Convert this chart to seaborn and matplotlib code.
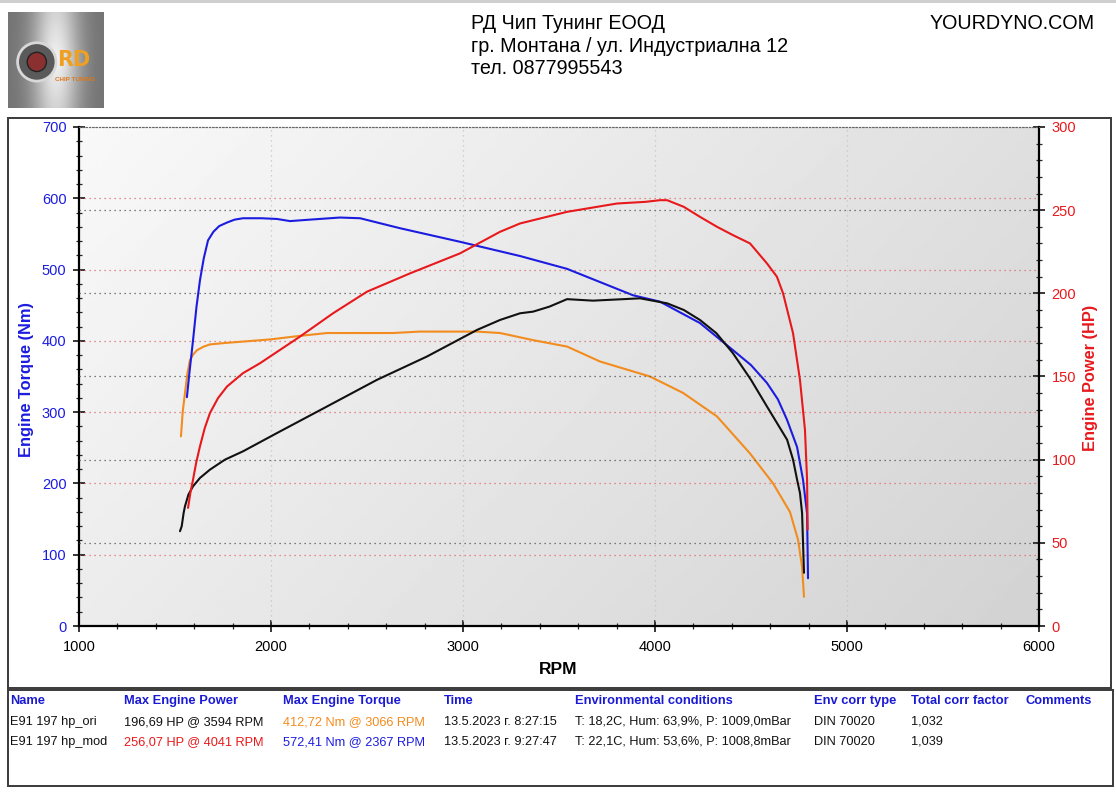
import matplotlib
matplotlib.use('Agg')
import matplotlib.pyplot as plt
from matplotlib.patches import Rectangle, Circle
from matplotlib.ticker import MultipleLocator
import seaborn as sns
import numpy as np
import pandas as pd

# --- data ---
# E91 197 hp_mod torque (Nm)
mod_torque_rpm = [1562, 1575, 1594, 1612, 1630, 1650, 1672, 1700, 1730, 1771, 1810, 1854, 1950,
                  2031, 2099, 2200, 2359, 2464, 2672, 2984, 3297, 3542, 3885, 4026, 4234,
                  4406, 4500, 4583, 4640, 4688, 4740, 4771, 4792, 4797]
mod_torque_nm = [321, 355, 401, 448, 485, 516, 541, 553, 561, 566, 570, 572, 572,
                 571, 568, 570, 573, 572, 558, 539, 519, 501, 464, 455, 425,
                 387, 366, 341, 318, 289, 251, 205, 158, 67]

# E91 197 hp_ori torque (Nm)
ori_torque_rpm = [1531, 1540, 1552, 1565, 1578, 1595, 1615, 1650, 1682, 1760, 1854, 1995, 2151,
                  2292, 2635, 2776, 3073, 3193, 3365, 3542, 3714, 3974, 4146, 4323, 4495,
                  4615, 4703, 4745, 4766, 4776]
ori_torque_nm = [266, 300, 327, 355, 373, 381, 387, 392, 395, 397, 399, 402, 407,
                 411, 411, 413, 413, 411, 401, 392, 371, 350, 327, 294, 242,
                 200, 160, 121, 83, 41]

# E91 197 hp_mod power (HP)
mod_power_rpm = [1568, 1580, 1594, 1610, 1630, 1655, 1682, 1724, 1771, 1854, 1943, 2151, 2323,
                 2500, 2724, 2984, 3193, 3297, 3542, 3802, 3950, 4026, 4063, 4150, 4234,
                 4323, 4406, 4495, 4583, 4635, 4667, 4719, 4755, 4781, 4792, 4795]
mod_power_hp = [71, 80, 88, 98, 108, 119, 128, 137, 144, 152, 158, 174, 188,
                201, 212, 224, 237, 242, 249, 254, 255, 256, 256, 252, 246,
                240, 235, 230, 218, 210, 200, 176, 148, 118, 88, 58]

# E91 197 hp_ori power (HP)
ori_power_rpm = [1526, 1535, 1545, 1552, 1570, 1594, 1630, 1682, 1760, 1854, 2031, 2292, 2552,
                 2812, 3073, 3193, 3297, 3365, 3450, 3542, 3677, 3922, 4063, 4150, 4234,
                 4320, 4406, 4500, 4583, 4688, 4719, 4740, 4755, 4766, 4776]
ori_power_hp = [57, 60, 68, 72, 79, 84, 89, 94, 100, 105, 116, 132, 148,
                162, 178, 184, 188, 189, 192, 196.5, 195.6, 197, 194, 190, 184,
                176, 164, 148, 132, 112, 100, 88, 80, 68, 32]

header_lines = ['РД Чип Тунинг ЕООД', 'гр. Монтана / ул. Индустриална 12', 'тел. 0877995543']
site_name = 'YOURDYNO.COM'

table_headers = ['Name', 'Max Engine Power', 'Max Engine Torque', 'Time',
                 'Environmental conditions', 'Env corr type', 'Total corr factor', 'Comments']
row_ori = ['E91 197 hp_ori', '196,69 HP @ 3594 RPM', '412,72 Nm @ 3066 RPM', '13.5.2023 г. 8:27:15',
           'T: 18,2C, Hum: 63,9%, P: 1009,0mBar', 'DIN 70020', '1,032', '']
row_mod = ['E91 197 hp_mod', '256,07 HP @ 4041 RPM', '572,41 Nm @ 2367 RPM', '13.5.2023 г. 9:27:47',
           'T: 22,1C, Hum: 53,6%, P: 1008,8mBar', 'DIN 70020', '1,039', '']

BLUE = '#1c1ce0'
RED = '#e8191c'
ORANGE = '#f28c1e'
BLACK = '#111111'
HEAD_BLUE = '#1a1ad4'

sns.set_theme(style='white')
plt.rcParams['font.family'] = ['Liberation Sans', 'DejaVu Sans']

W, H = 1116, 792
fig = plt.figure(figsize=(W / 100, H / 100), dpi=100)
fig.patch.set_facecolor('white')


def fx(px):
    return px / W


def fy(py):
    return 1 - py / H


# top grey strip and frames
fig.add_artist(Rectangle((0, fy(3)), 1, 3 / H, transform=fig.transFigure,
                         facecolor='#cfcfcf', edgecolor='none'))
fig.add_artist(Rectangle((fx(8), fy(688)), fx(1103), 570 / H, transform=fig.transFigure,
                         facecolor='none', edgecolor='#3a3a3a', lw=1.4))
fig.add_artist(Rectangle((fx(8), fy(786)), fx(1105), 96 / H, transform=fig.transFigure,
                         facecolor='none', edgecolor='#3a3a3a', lw=1.4))

# logo block
lax = fig.add_axes([fx(8), fy(108), fx(96), 96 / H])
yy, xx = np.mgrid[-1:1:96j, -1:1:96j]
shade = 0.45 + 0.5 * np.exp(-(xx * 0.9) ** 2 * 5) * (1 - 0.25 * np.abs(yy))
lax.imshow(shade, cmap='gray', vmin=0, vmax=1, extent=[0, 1, 0, 1], aspect='auto')
lax.add_patch(Circle((0.3, 0.48), 0.2, facecolor='#5a5a5a', edgecolor='#d8d8d8', lw=2))
lax.add_patch(Circle((0.3, 0.48), 0.1, facecolor='#8a3030', edgecolor='#222222', lw=1))
lax.text(0.68, 0.5, 'RD', color='#f0a020', fontsize=15, fontweight='bold',
         ha='center', va='center', family=['DejaVu Sans'])
lax.text(0.7, 0.3, 'CHIP TUNING', color='#e07818', fontsize=4.5, fontweight='bold',
         ha='center', va='center')
lax.set_xlim(0, 1)
lax.set_ylim(0, 1)
lax.axis('off')

# header text
for i, line in enumerate(header_lines):
    fig.text(fx(471), fy(29 + i * 22.5), line, fontsize=14.2, color='black', ha='left', va='baseline')
fig.text(fx(1095), fy(29), site_name, fontsize=14.2, color='black', ha='right', va='baseline')

# main chart
ax = fig.add_axes([fx(79), fy(626), fx(960), 499 / H])
ax2 = ax.twinx()

ax.set_xlim(1000, 6000)
ax.set_ylim(0, 700)
ax2.set_ylim(0, 300)

# background gradient
gx, gy = np.meshgrid(np.linspace(0, 1, 200), np.linspace(1, 0, 200))
grad = 0.975 - 0.10 * gx - 0.05 * (1 - gy)
ax.imshow(grad, cmap='gray', vmin=0, vmax=1, extent=[1000, 6000, 0, 700],
          aspect='auto', zorder=0, interpolation='bilinear')

df_mod_t = pd.DataFrame({'rpm': mod_torque_rpm, 'val': mod_torque_nm})
df_ori_t = pd.DataFrame({'rpm': ori_torque_rpm, 'val': ori_torque_nm})
df_mod_p = pd.DataFrame({'rpm': mod_power_rpm, 'val': mod_power_hp})
df_ori_p = pd.DataFrame({'rpm': ori_power_rpm, 'val': ori_power_hp})

sns.lineplot(data=df_ori_t, x='rpm', y='val', ax=ax, color=ORANGE, lw=1.5,
             sort=False, estimator=None, zorder=3)
sns.lineplot(data=df_mod_t, x='rpm', y='val', ax=ax, color=BLUE, lw=1.5,
             sort=False, estimator=None, zorder=3)
sns.lineplot(data=df_ori_p, x='rpm', y='val', ax=ax2, color=BLACK, lw=1.5,
             sort=False, estimator=None, zorder=3)
sns.lineplot(data=df_mod_p, x='rpm', y='val', ax=ax2, color=RED, lw=1.5,
             sort=False, estimator=None, zorder=3)

ax.set_xlabel('')
ax.set_ylabel('')
ax2.set_ylabel('')

# grids
for t in range(2000, 6000, 1000):
    ax.axvline(t, color='#c4c4c4', lw=0.9, ls=(0, (1, 3)), zorder=1)
for t in range(100, 700, 100):
    ax.axhline(t, color='#e06a6a', lw=0.9, ls=(0, (1, 3)), zorder=1)
for t in range(50, 300, 50):
    ax2.axhline(t, color='#555555', lw=0.9, ls=(0, (1, 3)), zorder=1)

# ticks
ax.xaxis.set_major_locator(MultipleLocator(1000))
ax.xaxis.set_minor_locator(MultipleLocator(200))
ax.yaxis.set_major_locator(MultipleLocator(100))
ax.yaxis.set_minor_locator(MultipleLocator(20))
ax2.yaxis.set_major_locator(MultipleLocator(50))
ax2.yaxis.set_minor_locator(MultipleLocator(10))

ax.tick_params(axis='x', which='major', direction='inout', length=8, width=1.1,
               colors='black', labelsize=10.5, pad=6, bottom=True)
ax.tick_params(axis='x', which='minor', direction='inout', length=5, width=0.9, bottom=True)
ax.tick_params(axis='y', which='major', direction='inout', length=8, width=1.1,
               colors='black', labelcolor=BLUE, labelsize=10.5, pad=5, left=True)
ax.tick_params(axis='y', which='minor', direction='inout', length=5, width=0.9, left=True)
ax2.tick_params(axis='y', which='major', direction='inout', length=8, width=1.1,
                colors='black', labelcolor=RED, labelsize=10.5, pad=5, right=True)
ax2.tick_params(axis='y', which='minor', direction='inout', length=5, width=0.9, right=True)

for a in (ax, ax2):
    for side in ('left', 'bottom', 'right'):
        a.spines[side].set_color('black')
        a.spines[side].set_linewidth(1.6)
    a.spines['top'].set_color('#666666')
    a.spines['top'].set_linewidth(0.8)
    a.spines['top'].set_linestyle((0, (1, 2)))
ax2.spines['left'].set_visible(False)
ax2.spines['bottom'].set_visible(False)
ax.spines['right'].set_visible(False)

# axis titles
fig.text(fx(26), fy(379), 'Engine Torque (Nm)', rotation=90, color=BLUE, fontsize=11.8,
         fontweight='bold', ha='center', va='center')
fig.text(fx(1091), fy(378), 'Engine Power (HP)', rotation=90, color=RED, fontsize=11.8,
         fontweight='bold', ha='center', va='center')
fig.text(fx(558), fy(669), 'RPM', color='black', fontsize=12.5, fontweight='bold',
         ha='center', va='center')

# summary table
col_x = [10, 124, 283, 444, 575, 814, 911, 1026]
for x, h in zip(col_x, table_headers):
    fig.text(fx(x), fy(704), h, color=HEAD_BLUE, fontsize=9.3, fontweight='bold',
             ha='left', va='baseline')

ori_colors = [BLACK, BLACK, ORANGE, BLACK, BLACK, BLACK, BLACK, BLACK]
mod_colors = [BLACK, RED, BLUE, BLACK, BLACK, BLACK, BLACK, BLACK]
for x, txt, c in zip(col_x, row_ori, ori_colors):
    fig.text(fx(x), fy(725), txt, color=c, fontsize=9.2, ha='left', va='baseline')
for x, txt, c in zip(col_x, row_mod, mod_colors):
    fig.text(fx(x), fy(745), txt, color=c, fontsize=9.2, ha='left', va='baseline')

fig.savefig('out.png', dpi=100)
